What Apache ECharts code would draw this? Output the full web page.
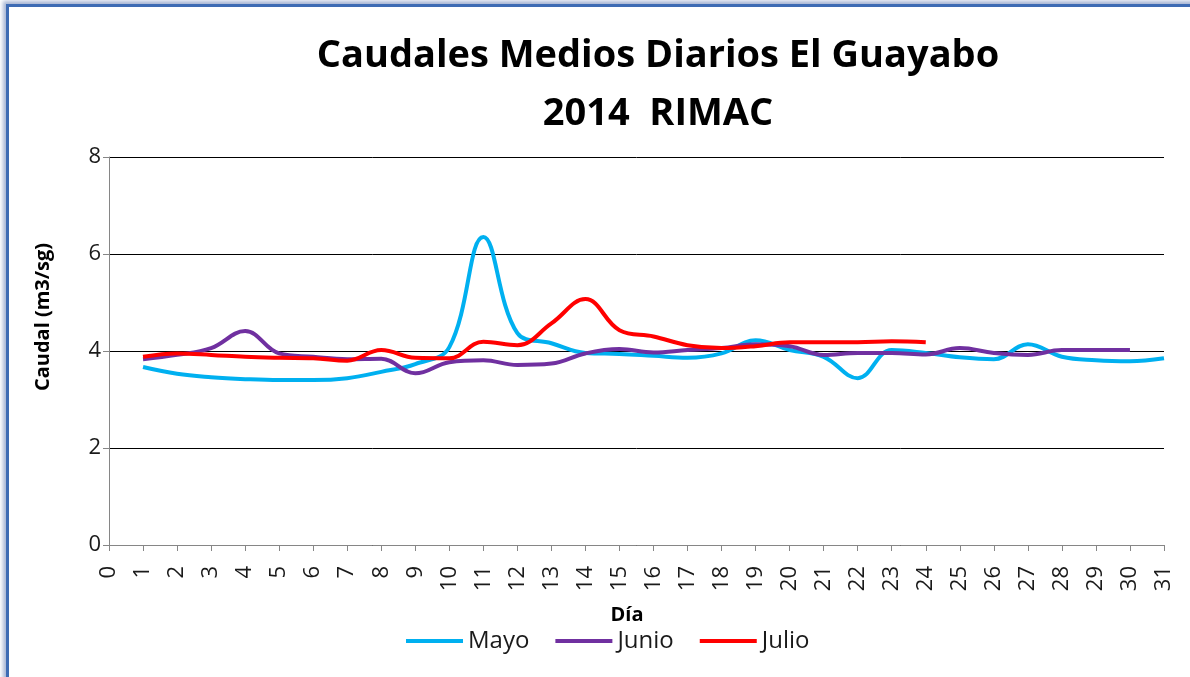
<!DOCTYPE html>
<html>
<head>
<meta charset="utf-8">
<script src="https://cdn.jsdelivr.net/npm/echarts@6/dist/echarts.min.js"></script>
<style>
  html, body { margin: 0; padding: 0; background: #fff; overflow: hidden; }
  #frame {
    position: absolute; left: 6px; top: 4px; width: 1200px; height: 700px;
    border-left: 3px solid #3e6bb4; border-top: 3px solid #3e6bb4;
    box-shadow: -3px -3px 4px rgba(60, 90, 160, 0.45);
    background: #fff;
  }
  #chart { position: absolute; left: 0; top: 0; width: 1190px; height: 677px; }
</style>
</head>
<body>
<div id="frame"></div>
<div id="chart"></div>
<script>
// days on the x axis
var mayoDays = [1,2,3,4,5,6,7,8,9,10,11,12,13,14,15,16,17,18,19,20,21,22,23,24,25,26,27,28,29,30,31];
var junioDays = [1,2,3,4,5,6,7,8,9,10,11,12,13,14,15,16,17,18,19,20,21,22,23,24,25,26,27,28,29,30];
var julioDays = [1,2,3,4,5,6,7,8,9,10,11,12,13,14,15,16,17,18,19,20,21,22,23,24];

// caudal (m3/sg)
var mayo = [3.67,3.53,3.46,3.42,3.40,3.40,3.44,3.57,3.73,4.08,6.35,4.37,4.16,3.96,3.94,3.90,3.86,3.95,4.22,4.02,3.88,3.44,4.02,3.96,3.87,3.83,4.14,3.88,3.81,3.79,3.85];
var junio = [3.83,3.92,4.06,4.41,3.95,3.88,3.83,3.84,3.54,3.77,3.81,3.71,3.74,3.95,4.04,3.97,4.02,4.06,4.14,4.10,3.92,3.96,3.96,3.93,4.06,3.96,3.92,4.02,4.02,4.02];
var julio = [3.88,3.95,3.92,3.88,3.86,3.85,3.80,4.02,3.86,3.85,4.19,4.12,4.57,5.07,4.43,4.30,4.12,4.06,4.10,4.18,4.18,4.18,4.20,4.18];

var yTicks = [0, 2, 4, 6, 8];

function pairs(days, vals) {
  return days.map(function (d, i) { return [d, vals[i]]; });
}

var font = "'Open Sans', 'Noto Sans', sans-serif";
var chart = echarts.init(document.getElementById("chart"), null, { renderer: "canvas" });

var option = {
  backgroundColor: "transparent",
  animation: false,
  title: {
    text: "Caudales Medios Diarios El Guayabo\n2014  RIMAC",
    left: 653,
    textAlign: "center",
    top: 22,
    textStyle: { fontFamily: font, fontSize: 38, fontWeight: "bold", color: "#000", lineHeight: 58 }
  },
  grid: { left: 109, right: 26, top: 157, bottom: 132 },
  legend: {
    data: ["Mayo", "Junio", "Julio"],
    left: 401,
    top: 624,
    icon: "rect",
    itemWidth: 57,
    itemHeight: 4,
    itemGap: 26,
    textStyle: { fontFamily: font, fontSize: 24, color: "#1a1a1a" }
  },
  xAxis: {
    type: "value",
    min: 0,
    max: 31,
    interval: 1,
    splitLine: { show: false },
    axisLine: { show: true, lineStyle: { color: "#868686", width: 1 } },
    axisTick: { show: true, length: 6, lineStyle: { color: "#868686" } },
    axisLabel: { rotate: 90, fontFamily: font, fontSize: 22, color: "#1a1a1a", margin: 21, showMinLabel: true, showMaxLabel: true }
  },
  yAxis: {
    type: "value",
    min: yTicks[0],
    max: yTicks[yTicks.length - 1],
    interval: 2,
    axisLine: { show: true, lineStyle: { color: "#868686", width: 1 } },
    axisTick: { show: true, length: 6, lineStyle: { color: "#868686" } },
    splitLine: { show: true, lineStyle: { color: "#000", width: 1 } },
    axisLabel: { fontFamily: font, fontSize: 22, color: "#1a1a1a", margin: 8 }
  },
  graphic: [
    {
      type: "text",
      x: 43, y: 317,
      rotation: Math.PI / 2,
      style: { text: "Caudal (m3/sg)", fontFamily: font, fontSize: 20, fontWeight: "bold", fill: "#000", align: "center", verticalAlign: "middle" }
    },
    {
      type: "text",
      x: 627, y: 615,
      style: { text: "Día", fontFamily: font, fontSize: 20, fontWeight: "bold", fill: "#000", align: "center", verticalAlign: "middle" }
    }
  ],
  series: [
    {
      name: "Mayo", type: "line", smooth: 0.4, showSymbol: false,
      data: pairs(mayoDays, mayo),
      itemStyle: { color: "#00B0F0" },
      lineStyle: { color: "#00B0F0", width: 4 }
    },
    {
      name: "Junio", type: "line", smooth: 0.4, showSymbol: false,
      data: pairs(junioDays, junio),
      itemStyle: { color: "#7030A0" },
      lineStyle: { color: "#7030A0", width: 4 }
    },
    {
      name: "Julio", type: "line", smooth: 0.4, showSymbol: false,
      data: pairs(julioDays, julio),
      itemStyle: { color: "#FF0000" },
      lineStyle: { color: "#FF0000", width: 4 }
    }
  ]
};

chart.setOption(option);
</script>
</body>
</html>
